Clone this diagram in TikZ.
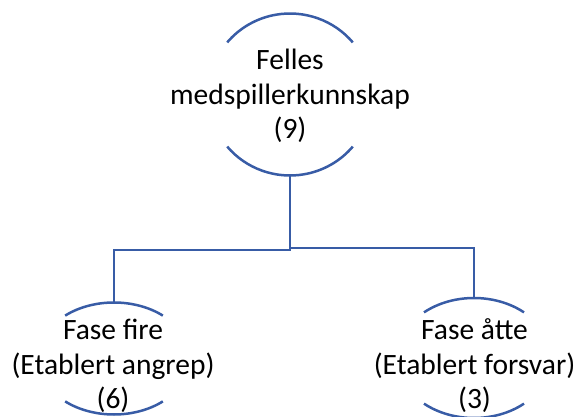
\documentclass[tikz,border=0pt]{standalone}
\usepackage{fontspec}
\setmainfont{Carlito}
\usetikzlibrary{calc,shapes.geometric}
\definecolor{arcblue}{RGB}{56,92,166}
\begin{document}
\begin{tikzpicture}[x=1pt,y=-1pt,
  holder/.style={ellipse,draw=none,inner sep=0pt},
  label/.style={align=center,inner sep=0pt,text=black,
    font=\fontsize{29.5}{34.5}\selectfont},
  rim/.style={draw=arcblue,line width=2.5pt},
  conn/.style={draw=arcblue,line width=2.5pt}]
\useasboundingbox (0,0) rectangle (576,417);

% ellipse frames (only their upper and lower arcs are drawn)
\node[holder,minimum width=164pt,minimum height=162pt] (topc) at (290,94.5) {};
\node[holder,minimum width=152pt,minimum height=112pt] (leftc) at (114,358.5) {};
\node[holder,minimum width=154pt,minimum height=120pt] (rightc) at (474,358) {};

% top circle arcs
\draw[rim] ($(topc.center)+(40:82pt and 81pt)$) arc[start angle=40,end angle=140,x radius=82pt,y radius=81pt];
\draw[rim] ($(topc.center)+(220:82pt and 81pt)$) arc[start angle=220,end angle=320,x radius=82pt,y radius=81pt];
% left ellipse arcs
\draw[rim] ($(leftc.center)+(50:76pt and 56pt)$) arc[start angle=50,end angle=130,x radius=76pt,y radius=56pt];
\draw[rim] ($(leftc.center)+(230:76pt and 56pt)$) arc[start angle=230,end angle=310,x radius=76pt,y radius=56pt];
% right ellipse arcs
\draw[rim] ($(rightc.center)+(49.5:77pt and 60pt)$) arc[start angle=49.5,end angle=130.5,x radius=77pt,y radius=60pt];
\draw[rim] ($(rightc.center)+(229.5:77pt and 60pt)$) arc[start angle=229.5,end angle=310.5,x radius=77pt,y radius=60pt];

% texts
\node[label] (toptext) at (290,96) {Felles\\medspillerkunnskap\\(9)};
\node[label] (lefttext) at (113,366) {Fase fire\\(Etablert angrep)\\(6)};
\node[label] (righttext) at (474.5,366) {Fase åtte\\(Etablert forsvar)\\(3)};

% tree connectors
\draw[conn] (topc.south) -- ([yshift=-74.5pt]topc.south) -| (leftc.north);
\draw[conn] ([yshift=-72.5pt]topc.south) -| (rightc.north);
\end{tikzpicture}
\end{document}
